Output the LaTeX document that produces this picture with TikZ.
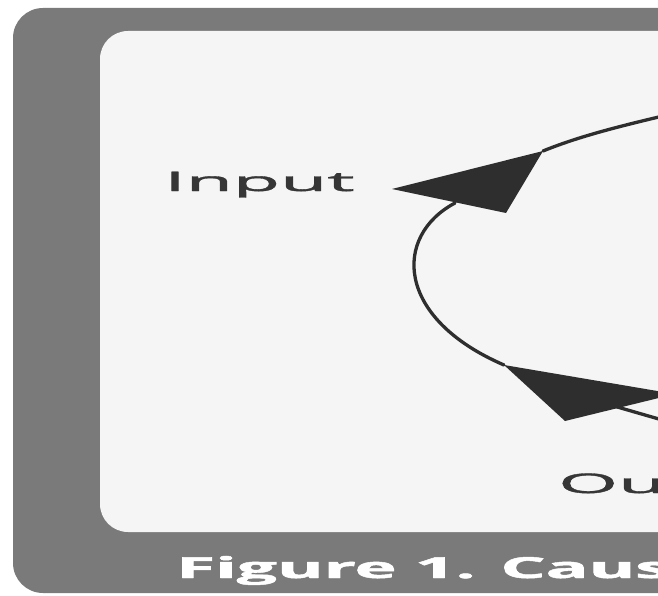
\documentclass[tikz,border=0pt]{standalone}
\usepackage{fontspec}
\setmainfont{Open Sans}
\newfontfamily\labelfont[FakeBold=1.2]{Open Sans}
\newfontfamily\captionfont[FakeBold=1.5]{Open Sans Bold}
\definecolor{framegray}{HTML}{7A7A7A}
\definecolor{panelwhite}{HTML}{F5F5F5}
\definecolor{inkgray}{HTML}{2E2E2E}
\definecolor{labelgray}{HTML}{363636}
\begin{document}
\begin{tikzpicture}[x=1pt,y=-1pt,
  frame/.style={fill=framegray},
  panel/.style={fill=panelwhite},
  loopline/.style={line width=3.3pt, draw=inkgray, line cap=round},
  head/.style={fill=inkgray},
  lbl/.style={font=\labelfont\fontsize{27}{27}\selectfont, text=labelgray, inner sep=0pt, anchor=base west},
  captxt/.style={font=\captionfont\fontsize{29}{29}\selectfont, text=white, inner sep=0pt, anchor=base west}]
\useasboundingbox (0,0) rectangle (658,596);
\fill[white] (0,0) rectangle (658,596);
\fill[frame, rounded corners=30pt] (13,8) rectangle (760,593);
\fill[panel, rounded corners=28pt] (100,31) rectangle (760,532);

% labels
\node[lbl] (input) at (164,191) {\scalebox{2.85}[1]{Input}};
\node[lbl] (out) at (558,493) {\scalebox{2.85}[1]{Ou}};
\node[captxt] (caption) at (176,578) {\scalebox{2.45}[1]{Figure 1. Caus}};

% coordinates of the loop
\coordinate (topin) at (680,112);
\coordinate (tipA) at (392,189);
\coordinate (baseA1) at (543,151);
\coordinate (baseA2) at (506,213);
\coordinate (arcstart) at (455,203);
\coordinate (baseB1) at (504,365);
\coordinate (baseB2) at (565,421);
\coordinate (tipB) at (675,394);
\coordinate (botstart) at (600,402);
\coordinate (botout) at (690,428);

% upper curve into the Input arrowhead
\draw[loopline] (topin) .. controls (620,126) and (580,136) .. (baseA1);
\fill[head] (tipA) -- (baseA1) -- (baseA2) -- cycle;

% left arc into the Output arrowhead
\draw[loopline] (arcstart) .. controls (393,236) and (395,318) .. (baseB1);
\fill[head] (baseB1) -- (tipB) -- (baseB2) -- cycle;

% line leaving below the Output arrowhead
\draw[loopline] (botstart) -- (botout);
\end{tikzpicture}
\end{document}
